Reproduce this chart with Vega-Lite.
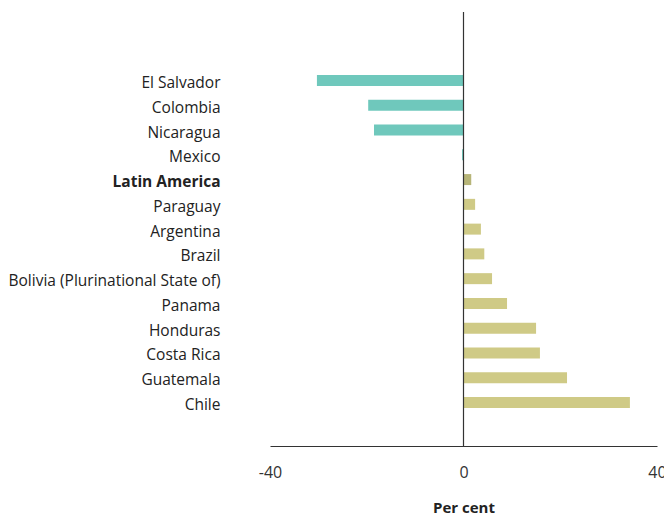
{
  "$schema": "https://vega.github.io/schema/vega-lite/v6.json",
  "autosize": {"type": "none"},
  "width": 387,
  "height": 434,
  "padding": {"left": 270, "top": 12, "right": 7, "bottom": 68},
  "background": "white",
  "config": {
    "view": {"stroke": null},
    "font": "Open Sans",
    "axis": {"labelFont": "Open Sans", "titleFont": "Open Sans", "labelColor": "#333333", "titleColor": "#222222"}
  },
  "data": {
    "values": [
      {"country": "El Salvador", "value": -30.3, "group": "Decrease"},
      {"country": "Colombia", "value": -19.7, "group": "Decrease"},
      {"country": "Nicaragua", "value": -18.5, "group": "Decrease"},
      {"country": "Mexico", "value": -0.3, "group": "Decrease"},
      {"country": "Latin America", "value": 1.6, "group": "Region"},
      {"country": "Paraguay", "value": 2.4, "group": "Increase"},
      {"country": "Argentina", "value": 3.6, "group": "Increase"},
      {"country": "Brazil", "value": 4.3, "group": "Increase"},
      {"country": "Bolivia (Plurinational State of)", "value": 5.9, "group": "Increase"},
      {"country": "Panama", "value": 9.0, "group": "Increase"},
      {"country": "Honduras", "value": 15.0, "group": "Increase"},
      {"country": "Costa Rica", "value": 15.8, "group": "Increase"},
      {"country": "Guatemala", "value": 21.4, "group": "Increase"},
      {"country": "Chile", "value": 34.4, "group": "Increase"}
    ]
  },
  "layer": [
    {
      "mark": {"type": "bar"},
      "encoding": {
        "y": {
          "field": "country",
          "type": "nominal",
          "sort": null,
          "scale": {"paddingInner": 0.556, "paddingOuter": 0, "range": [63, 396]},
          "axis": {
            "title": null,
            "domain": false,
            "ticks": false,
            "labelPadding": 50,
            "labelFontSize": 15.5,
            "labelOffset": 2.5,
            "labelLimit": 400,
            "labelFontWeight": {"condition": {"test": "datum.value == 'Latin America'", "value": "bold"}, "value": "normal"},
            "labelColor": "#222222"
          }
        },
        "x": {
          "field": "value",
          "type": "quantitative",
          "scale": {"domain": [-40, 40], "nice": false},
          "axis": {
            "title": "Per cent",
            "titleFontSize": 15,
            "titleFontWeight": "bold",
            "titlePadding": 20,
            "values": [-40, 0, 40],
            "labelExpr": "datum.value + ''",
            "grid": false,
            "ticks": false,
            "domainColor": "#333333",
            "domainWidth": 1,
            "labelPadding": 18,
            "labelFontSize": 16,
            "labelFlush": false
          }
        },
        "color": {
          "field": "group",
          "type": "nominal",
          "scale": {"domain": ["Decrease", "Region", "Increase"], "range": ["#6FC8BC", "#B7B578", "#CFCA86"]},
          "legend": null
        }
      }
    },
    {
      "data": {"values": [{"zero": 0}]},
      "mark": {"type": "rule", "color": "#333333", "strokeWidth": 1.2},
      "encoding": {"x": {"field": "zero", "type": "quantitative"}}
    }
  ]
}
